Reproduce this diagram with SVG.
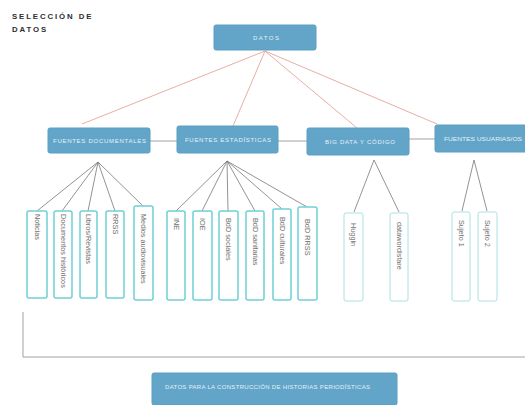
<svg xmlns="http://www.w3.org/2000/svg" width="525" height="405" viewBox="0 0 525 405">
<style>
.title{font-family:"Liberation Sans",Arial,sans-serif;font-weight:bold;font-size:7.8px;letter-spacing:1.9px;fill:#2e2e2e}
.bx{fill:#62a5c8;stroke:#5b9fc2;stroke-width:1}
.bt{font-family:"Liberation Sans",Arial,sans-serif;font-size:6px;fill:#e4f1f8}
.lf{fill:#fff;stroke:#6fd0d4;stroke-width:1.5}
.lf2{fill:#fff;stroke:#a9e0e0;stroke-width:1}
.lt{font-family:"Liberation Sans",Arial,sans-serif;font-size:7.3px;fill:#707070}
.red{stroke:#e6a49a;stroke-width:0.9;fill:none}
.gr{stroke:#777;stroke-width:0.8;fill:none}
.hl{stroke:#999;stroke-width:0.9;fill:none}
</style>
<rect width="525" height="405" fill="#fff"/>
<text class="title" x="12" y="18.5">SELECCIÓN DE</text>
<text class="title" x="12" y="31.5">DATOS</text>

<g id="connectors">
<line class="red" x1="265" y1="51" x2="82" y2="124"/>
<line class="red" x1="265" y1="51" x2="233" y2="126"/>
<line class="red" x1="265" y1="51" x2="357" y2="128"/>
<line class="red" x1="265" y1="51" x2="437" y2="124"/>
<line class="hl" x1="150" y1="141" x2="177" y2="141"/>
<line class="hl" x1="278" y1="141" x2="307" y2="141"/>
<line class="hl" x1="409" y1="139" x2="435" y2="139"/>
<line class="gr" x1="98" y1="162" x2="37" y2="211"/>
<line class="gr" x1="98" y1="162" x2="62" y2="211"/>
<line class="gr" x1="98" y1="162" x2="88" y2="211"/>
<line class="gr" x1="98" y1="162" x2="115" y2="211"/>
<line class="gr" x1="98" y1="162" x2="143" y2="206"/>
<line class="gr" x1="227" y1="161" x2="176" y2="211"/>
<line class="gr" x1="227" y1="161" x2="202" y2="211"/>
<line class="gr" x1="227" y1="161" x2="228" y2="211"/>
<line class="gr" x1="227" y1="161" x2="255" y2="211"/>
<line class="gr" x1="227" y1="161" x2="282" y2="209"/>
<line class="gr" x1="227" y1="161" x2="307" y2="207"/>
<line class="gr" x1="374" y1="160" x2="354" y2="212"/>
<line class="gr" x1="374" y1="160" x2="399" y2="212"/>
<line class="gr" x1="474" y1="160" x2="462" y2="211"/>
<line class="gr" x1="474" y1="160" x2="487" y2="211"/>
<polyline class="hl" points="23,312 23,357 525,357"/>
</g>

<g id="datos"><rect class="bx" x="214" y="25" width="102" height="25" rx="2"/><text class="bt" x="253" y="39.8" textLength="26" lengthAdjust="spacing">DATOS</text></g>
<g id="fuentes-documentales"><rect class="bx" x="48" y="128" width="102" height="25" rx="2"/><text class="bt" x="53" y="142.8" textLength="93" lengthAdjust="spacing">FUENTES DOCUMENTALES</text></g>
<g id="fuentes-estadisticas"><rect class="bx" x="177" y="126" width="101" height="27" rx="2"/><text class="bt" x="185" y="141.8" textLength="86" lengthAdjust="spacing">FUENTES ESTADÍSTICAS</text></g>
<g id="big-data"><rect class="bx" x="307" y="128" width="102" height="27" rx="2"/><text class="bt" x="325" y="143.8" textLength="70" lengthAdjust="spacing">BIG DATA Y CÓDIGO</text></g>
<g id="fuentes-usuarias"><rect class="bx" x="435" y="125" width="100" height="27" rx="2"/><text class="bt" x="444" y="140.8" textLength="78" lengthAdjust="spacingAndGlyphs">FUENTES USUARIAS/OS</text></g>

<g id="noticias"><rect class="lf" x="27" y="211" width="20" height="87" rx="2"/><text class="lt" transform="translate(34.5,214) rotate(90)">Noticias</text></g>
<g id="documentos-historicos"><rect class="lf" x="54" y="211" width="18" height="87" rx="2"/><text class="lt" transform="translate(60.5,214) rotate(90)">Documentos históricos</text></g>
<g id="libros-revistas"><rect class="lf" x="80" y="211" width="17" height="87" rx="2"/><text class="lt" transform="translate(86,214) rotate(90)">Libros/Revistas</text></g>
<g id="rrss"><rect class="lf" x="106" y="211" width="18" height="87" rx="2"/><text class="lt" transform="translate(112.5,214) rotate(90)">RRSS</text></g>
<g id="medios-audiovisuales"><rect class="lf" x="134" y="206" width="19" height="94" rx="2"/><text class="lt" transform="translate(140.5,214) rotate(90)">Medios audiovisuales</text></g>

<g id="ine"><rect class="lf" x="167" y="211" width="18" height="89" rx="2"/><text class="lt" transform="translate(173.5,218) rotate(90)">INE</text></g>
<g id="ioe"><rect class="lf" x="193" y="211" width="19" height="89" rx="2"/><text class="lt" transform="translate(199.5,218) rotate(90)">IOE</text></g>
<g id="bdd-sociales"><rect class="lf" x="219" y="211" width="19" height="89" rx="2"/><text class="lt" transform="translate(225.5,218) rotate(90)">BdD sociales</text></g>
<g id="bdd-sanitarias"><rect class="lf" x="246" y="211" width="18" height="89" rx="2"/><text class="lt" transform="translate(252.5,218) rotate(90)">BdD sanitarias</text></g>
<g id="bdd-culturales"><rect class="lf" x="273" y="209" width="18" height="91" rx="2"/><text class="lt" transform="translate(279.5,217) rotate(90)">BdD culturales</text></g>
<g id="bdd-rrss"><rect class="lf" x="298" y="207" width="19" height="93" rx="2"/><text class="lt" transform="translate(304.5,219) rotate(90)">BdD RRSS</text></g>

<g id="huggin"><rect class="lf2" x="344" y="213" width="19" height="88" rx="2"/><text class="lt" transform="translate(350.5,223) rotate(90)">Huggin</text></g>
<g id="dataworld"><rect class="lf2" x="390" y="213" width="18" height="88" rx="2"/><text class="lt" transform="translate(396.5,222) rotate(90)">datawordlsfare</text></g>
<g id="sujeto1"><rect class="lf2" x="452" y="212" width="18" height="89" rx="2"/><text class="lt" transform="translate(458.5,220) rotate(90)">Sujeto 1</text></g>
<g id="sujeto2"><rect class="lf2" x="478" y="212" width="19" height="89" rx="2"/><text class="lt" transform="translate(484.5,220) rotate(90)">Sujeto 2</text></g>

<g id="datos-construccion"><rect class="bx" x="152" y="373" width="245" height="32" rx="2"/><text class="bt" x="165" y="388.8" textLength="205" lengthAdjust="spacing">DATOS PARA LA CONSTRUCCIÓN DE HISTORIAS PERIODÍSTICAS</text></g>
</svg>
